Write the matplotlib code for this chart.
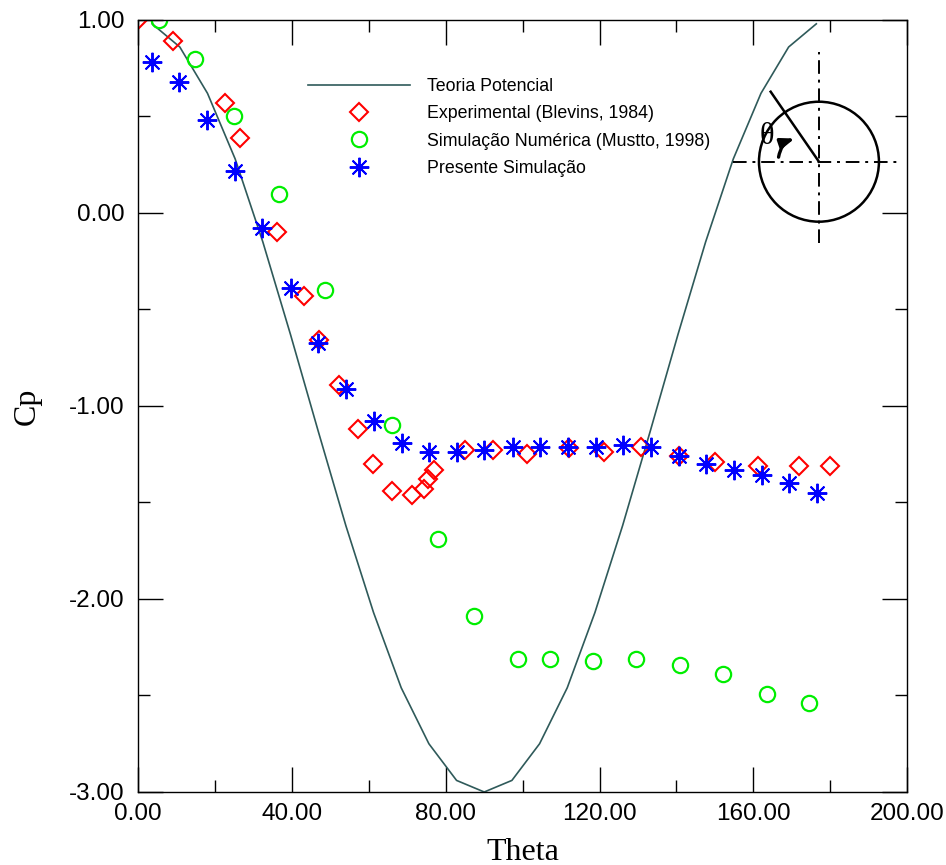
import numpy as np
import matplotlib
matplotlib.use("Agg")
import matplotlib.pyplot as plt
from matplotlib.patches import Circle
from matplotlib.ticker import MultipleLocator, FormatStrFormatter

# Cp distribution around the cylinder
theta_pot = [3.6, 10.8, 18.0, 25.2, 32.4, 39.6, 46.8, 54.0, 61.2, 68.4, 75.6, 82.8, 90.0,
             97.2, 104.4, 111.6, 118.8, 126.0, 133.2, 140.4, 147.6, 154.8, 162.0, 169.2, 176.4]
cp_pot = [0.98, 0.86, 0.62, 0.28, -0.15, -0.63, -1.13, -1.62, -2.07, -2.46, -2.75, -2.94, -3.00,
          -2.94, -2.75, -2.46, -2.07, -1.62, -1.13, -0.63, -0.15, 0.28, 0.62, 0.86, 0.98]

theta_exp = [0.0, 9.0, 22.6, 26.4, 36.1, 43.0, 47.1, 52.2, 57.1, 61.1, 66.1, 71.3, 74.2, 75.5,
             77.0, 85.0, 92.2, 101.1, 112.0, 121.2, 130.9, 140.7, 150.0, 161.2, 171.9, 180.0]
cp_exp = [1.00, 0.89, 0.57, 0.39, -0.10, -0.43, -0.66, -0.89, -1.12, -1.30, -1.44, -1.46, -1.43,
          -1.38, -1.33, -1.23, -1.23, -1.25, -1.22, -1.24, -1.21, -1.26, -1.29, -1.31, -1.31, -1.31]

theta_num = [5.5, 14.8, 25.0, 36.5, 48.5, 65.9, 78.1, 87.4, 98.7, 107.0, 118.3, 129.6, 140.9,
             152.2, 163.5, 174.6]
cp_num = [1.00, 0.80, 0.50, 0.10, -0.40, -1.10, -1.69, -2.09, -2.31, -2.31, -2.32, -2.31, -2.34,
          -2.39, -2.49, -2.54]

theta_pres = [3.5, 10.7, 18.0, 25.2, 32.3, 39.6, 46.8, 54.1, 61.3, 68.5, 75.7, 82.8, 90.0,
              97.4, 104.6, 111.8, 119.0, 126.1, 133.3, 140.6, 147.8, 155.1, 162.2, 169.4, 176.7]
cp_pres = [0.78, 0.68, 0.48, 0.22, -0.08, -0.39, -0.675, -0.91, -1.08, -1.19, -1.24, -1.24, -1.23,
           -1.21, -1.21, -1.21, -1.21, -1.20, -1.21, -1.26, -1.30, -1.33, -1.36, -1.40, -1.45]

labels = ["Teoria Potencial", "Experimental (Blevins, 1984)",
          "Simulação Numérica (Mustto, 1998)", "Presente Simulação"]

fig = plt.figure(figsize=(9.46, 8.65), dpi=100)
ax = fig.add_axes([0.1462, 0.0844, 0.8126, 0.8925])

ax.plot(theta_pot, cp_pot, color="#2f5a5a", lw=1.2, label=labels[0])
ax.plot(theta_exp, cp_exp, ls="none", marker="D", ms=9, mfc="none", mec="#ff0000",
        mew=1.5, label=labels[1])
ax.plot(theta_num, cp_num, ls="none", marker="o", ms=11, mfc="none", mec="#00ee00",
        mew=1.6, label=labels[2])
ax.plot(theta_pres, cp_pres, ls="none", marker=(8, 2, 0), ms=14, mec="#0000ff",
        mew=1.4, label=labels[3])

ax.set_xlim(0, 200)
ax.set_ylim(-3, 1)
ax.xaxis.set_major_locator(MultipleLocator(40))
ax.xaxis.set_minor_locator(MultipleLocator(20))
ax.yaxis.set_major_locator(MultipleLocator(1))
ax.yaxis.set_minor_locator(MultipleLocator(0.5))
ax.xaxis.set_major_formatter(FormatStrFormatter("%.2f"))
ax.yaxis.set_major_formatter(FormatStrFormatter("%.2f"))
ax.tick_params(which="both", direction="in", top=True, right=True, width=1.0)
ax.tick_params(which="major", length=18)
ax.tick_params(which="minor", length=8.5)
ax.tick_params(axis="x", labelsize=17.5, pad=8)
ax.tick_params(axis="y", labelsize=17.5, pad=10)
for lab in ax.get_xticklabels() + ax.get_yticklabels():
    lab.set_fontfamily("Liberation Sans")
for sp in ax.spines.values():
    sp.set_linewidth(1.0)

ax.set_xlabel("Theta", fontsize=23, family="Liberation Serif")
ax.set_ylabel("Cp", fontsize=23, family="Liberation Serif")
ax.xaxis.set_label_coords(0.5, -0.059)
ax.yaxis.set_label_coords(-0.126, 0.5)

leg = ax.legend(loc="upper left", bbox_to_anchor=(0.221, 0.925), frameon=False,
                prop={"family": "Liberation Sans", "size": 12.8}, handlelength=5.7,
                handletextpad=1.0, labelspacing=0.58, borderpad=0, borderaxespad=0)

# sketch of the cylinder and the angle theta
ins = fig.add_axes([0.760, 0.6743, 0.2114, 0.2775])
ins.set_xlim(-1.667, 1.667)
ins.set_ylim(-2, 2)
ins.set_aspect("equal")
ins.axis("off")
ins.add_patch(Circle((0, 0), 1.0, fill=False, lw=1.8, color="black"))
dashdot = (0, (7, 3, 1.5, 3))
ins.plot([-1.433, 1.3], [0, 0], color="black", lw=1.4, ls=dashdot)
ins.plot([0, 0], [-1.35, 1.833], color="black", lw=1.4, ls=dashdot)
ins.plot([0, -0.805], [0, 1.167], color="black", lw=1.8)
ins.text(-0.86, 0.42, "θ", fontsize=22, family="Liberation Serif", ha="center", va="center")
ins.annotate("", xy=(-0.36, 0.40), xytext=(-0.68, 0.03),
             arrowprops=dict(arrowstyle="-|>,head_length=0.8,head_width=0.3", lw=2.4,
                             color="black", connectionstyle="arc3,rad=-0.35"))

fig.savefig("out.png", dpi=100)
